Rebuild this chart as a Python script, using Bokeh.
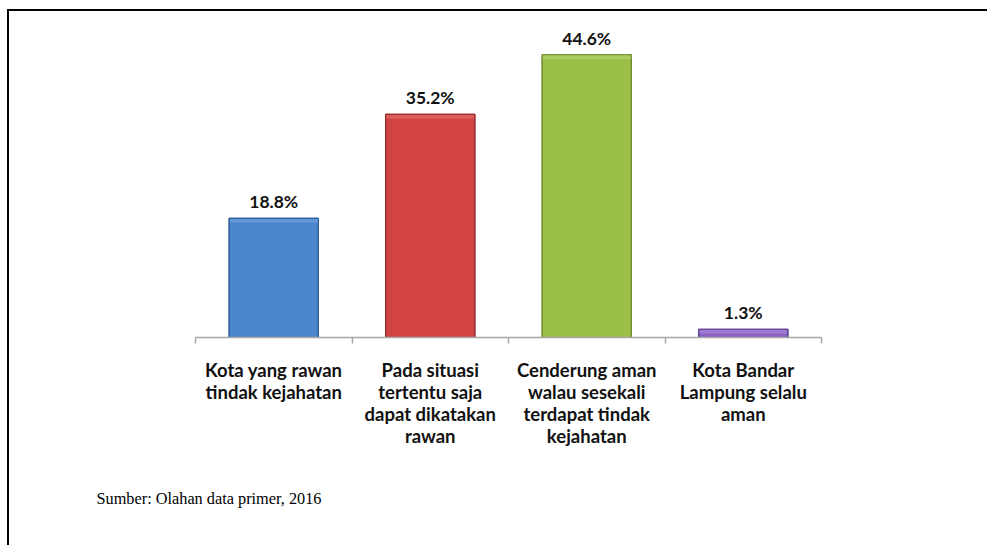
from bokeh.plotting import figure
from bokeh.models import ColumnDataSource, Range1d, LinearAxis, FixedTicker, LabelSet, Title
from bokeh.core.properties import value
from bokeh.embed import file_html
from bokeh.resources import INLINE

# ---- data ----
categories = [
    "Kota yang rawan\ntindak kejahatan",
    "Pada situasi\ntertentu saja\ndapat dikatakan\nrawan",
    "Cenderung aman\nwalau sesekali\nterdapat tindak\nkejahatan",
    "Kota Bandar\nLampung selalu\naman",
]
values = [18.8, 35.2, 44.6, 1.3]
value_labels = ["18.8%", "35.2%", "44.6%", "1.3%"]
fill_colors = ["#4a85cd", "#d24444", "#9bbf48", "#8a62c2"]
line_colors = ["#2f5f98", "#9e2f2f", "#748f36", "#5d3f8c"]
bevel_colors = ["#6297d8", "#dc5c5c", "#abcc5e", "#9c78d0"]
source_note = "Sumber: Olahan data primer, 2016"

n = len(categories)
centers = [i + 0.5 for i in range(n)]
src = ColumnDataSource(dict(
    x=centers, top=values, label=value_labels,
    fill=fill_colors, line=line_colors, bevel=bevel_colors,
    bevel_bottom=[v - 0.7 for v in values],
))

p = figure(
    width=980, height=536,
    x_range=Range1d(0, n), y_range=Range1d(0, 50),
    x_axis_type=None, y_axis_type=None,
    output_backend="svg", toolbar_location=None,
    min_border_left=186, min_border_right=168,
    min_border_top=9, min_border_bottom=210,
)
p.outline_line_color = None
p.background_fill_color = "white"
p.border_fill_color = "white"
p.styles = {"border-top": "2px solid #000000", "border-left": "2px solid #000000",
            "margin-left": "7px", "margin-top": "9px"}

p.vbar(x="x", top="top", bottom=0, width=0.57, fill_color="fill",
       line_color="line", line_width=1.2, source=src)
p.vbar(x="x", top="top", bottom="bevel_bottom", width=0.57, fill_color="bevel",
       line_color=None, source=src)
p.vbar(x="x", top="top", bottom=0, width=0.57, fill_color=None,
       line_color="line", line_width=1.2, source=src)

labels = LabelSet(x="x", y="top", text="label", source=src,
                  text_align="center", text_baseline="bottom", y_offset=6,
                  text_font=value("Lato"), text_font_style="bold",
                  text_font_size="17.5px", text_color="#111111")
p.add_layout(labels)

ax1 = LinearAxis(ticker=FixedTicker(ticks=list(range(n + 1))),
                 axis_line_color="#a6a6a6", axis_line_width=1.5,
                 major_tick_line_color="#a6a6a6", major_tick_line_width=1.5,
                 major_tick_in=0, major_tick_out=6,
                 minor_tick_line_color=None,
                 major_label_text_font_size="1px", major_label_standoff=0)
ax1.major_label_overrides = {i: "" for i in range(n + 1)}
p.add_layout(ax1, "below")

ax2 = LinearAxis(ticker=FixedTicker(ticks=centers),
                 axis_line_color=None, major_tick_line_color=None,
                 minor_tick_line_color=None,
                 major_tick_in=0, major_tick_out=0,
                 major_label_standoff=15,
                 major_label_text_font="Lato",
                 major_label_text_font_style="bold",
                 major_label_text_font_size="18.5px",
                 major_label_text_color="#111111",
                 major_label_text_line_height=1.0)
ax2.major_label_overrides = {c: cat for c, cat in zip(centers, categories)}
p.add_layout(ax2, "below")

note = Title(text=source_note, align="left", offset=-99, standoff=75,
             text_font="Liberation Serif", text_font_size="16.3px",
             text_font_style="normal", text_color="#000000")
p.add_layout(note, "below")

open("out.html", "w").write(file_html(p, INLINE))
